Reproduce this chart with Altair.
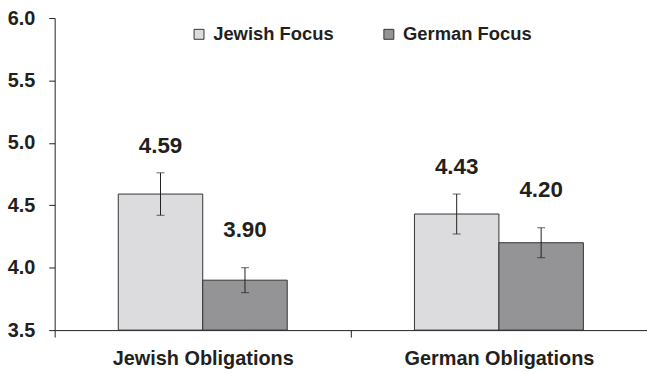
import altair as alt
import pandas as pd

# Means and error half-widths for each obligation type and focus condition
obligations = ["Jewish Obligations", "Jewish Obligations", "German Obligations", "German Obligations"]
focus = ["Jewish Focus", "German Focus", "Jewish Focus", "German Focus"]
means = [4.59, 3.90, 4.43, 4.20]
errors = [0.17, 0.10, 0.16, 0.12]

y_ticks = [3.5, 4.0, 4.5, 5.0, 5.5, 6.0]
focus_order = ["Jewish Focus", "German Focus"]
obligation_order = ["Jewish Obligations", "German Obligations"]

df = pd.DataFrame({
    "obligation": obligations,
    "focus": focus,
    "mean": means,
    "err": errors,
})
df["lo"] = df["mean"] - df["err"]
df["hi"] = df["mean"] + df["err"]
df["label"] = df["mean"].map(lambda v: f"{v:.2f}")

FONT = "Liberation Sans"
INK = "#231f20"

x_enc = alt.X(
    "obligation:N",
    sort=obligation_order,
    title=None,
    scale=alt.Scale(paddingInner=0, paddingOuter=0),
    axis=alt.Axis(
        labelAngle=0, tickBand="extent", tickSize=7, labelPadding=12, labelLimit=400,
        labelFontSize=20, labelFont=FONT, labelFontWeight="bold", labelColor=INK,
        domainColor=INK, tickColor=INK,
    ),
)
xoff = alt.XOffset(
    "focus:N", sort=focus_order,
    scale=alt.Scale(paddingInner=0, paddingOuter=0.753),
)
y_scale = alt.Scale(domain=[3.5, 6.0], nice=False, zero=False)

base = alt.Chart(df)

bars = base.mark_bar(stroke="#333333", strokeWidth=1).encode(
    x=x_enc,
    xOffset=xoff,
    y=alt.Y(
        "mean:Q", scale=y_scale, title=None,
        axis=alt.Axis(
            values=y_ticks, format=".1f", grid=False, tickSize=6, labelPadding=14,
            labelFontSize=20, labelFont=FONT, labelFontWeight="bold", labelColor=INK,
            domainColor=INK, tickColor=INK,
        ),
    ),
    y2=alt.datum(3.5),
    color=alt.Color(
        "focus:N", sort=focus_order,
        scale=alt.Scale(domain=focus_order, range=["#dcdcdf", "#949497"]),
        legend=alt.Legend(
            title=None, orient="none", direction="horizontal",
            legendX=136, legendY=7, padding=0,
            symbolType="square", symbolSize=100, symbolStrokeColor="#333333",
            symbolStrokeWidth=1, symbolOpacity=1, labelOffset=5,
            columnPadding=46, labelFontSize=18.5, labelFont=FONT,
            labelFontWeight="bold", labelColor=INK,
        ),
    ),
)

rules = base.mark_rule(color=INK, strokeWidth=1).encode(
    x=alt.X("obligation:N", sort=obligation_order),
    xOffset=xoff,
    y=alt.Y("lo:Q", scale=y_scale),
    y2="hi:Q",
)

caps_lo = base.mark_tick(color=INK, thickness=1, size=8, orient="horizontal").encode(
    x=alt.X("obligation:N", sort=obligation_order),
    xOffset=xoff,
    y=alt.Y("lo:Q", scale=y_scale),
)
caps_hi = base.mark_tick(color=INK, thickness=1, size=8, orient="horizontal").encode(
    x=alt.X("obligation:N", sort=obligation_order),
    xOffset=xoff,
    y=alt.Y("hi:Q", scale=y_scale),
)

def value_labels(which, dy):
    return base.transform_filter(alt.datum.focus == which).mark_text(
        font=FONT, fontWeight="bold", fontSize=22.5, color=INK, dy=dy, baseline="middle",
    ).encode(
        x=alt.X("obligation:N", sort=obligation_order),
        xOffset=xoff,
        y=alt.Y("hi:Q", scale=y_scale),
        text="label:N",
    )

chart = alt.layer(
    bars, rules, caps_lo, caps_hi,
    value_labels("Jewish Focus", -27),
    value_labels("German Focus", -38),
).properties(
    width=596, height=314,
    autosize=alt.AutoSizeParams(type="none"),
    padding={"left": 55, "top": 17, "right": 0, "bottom": 42},
    background="white",
).configure_view(stroke=None)

chart.save("out.html", embed_options={"renderer": "svg", "actions": False})
